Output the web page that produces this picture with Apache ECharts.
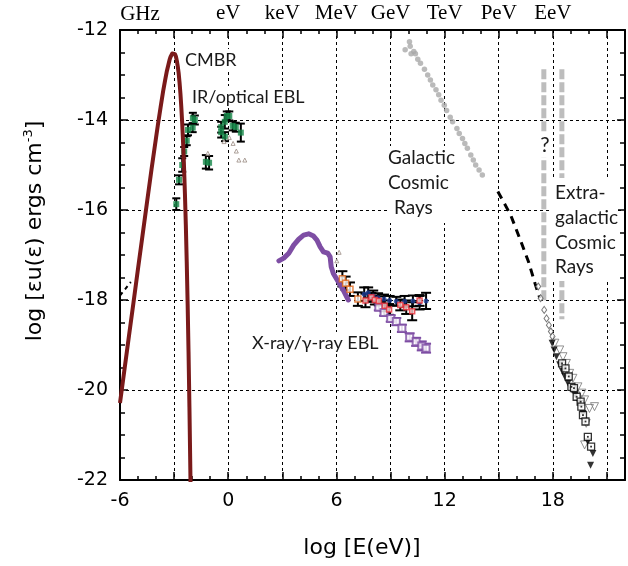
<!DOCTYPE html>
<html><head><meta charset="utf-8">
<script src="https://cdn.jsdelivr.net/npm/echarts@6/dist/echarts.min.js"></script>
<style>html,body{margin:0;padding:0;background:#fff}#c{width:628px;height:566px}</style>
</head><body><div id="c"></div>
<script>
// ---------- tick labels ----------
const X_LABELS = [-6, 0, 6, 12, 18];
const TOP_TICKS = [0, 3, 6, 9, 12, 15, 18];
const TOP_NAMES = ['eV', 'keV', 'MeV', 'GeV', 'TeV', 'PeV', 'EeV'];

// ---------- CMBR ----------
const CMBR_X = [-6,-5.75,-5.5,-5.25,-5,-4.75,-4.5,-4.25,-4,-3.9,-3.75,-3.6,-3.5,-3.4,-3.25,-3.2,-3.1,-3.04,-3.0,-2.95,-2.9,-2.85,-2.8,-2.75,-2.7,-2.65,-2.6,-2.55,-2.5,-2.45,-2.4,-2.35,-2.3,-2.25,-2.2,-2.15,-2.1,-2.05];
const CMBR_Y = [-20.29,-19.54,-18.79,-18.05,-17.30,-16.56,-15.82,-15.09,-14.39,-14.11,-13.72,-13.34,-13.12,-12.91,-12.66,-12.60,-12.52,-12.50,-12.51,-12.535,-12.59,-12.68,-12.80,-12.95,-13.16,-13.41,-13.72,-14.08,-14.52,-15.04,-15.64,-16.33,-17.15,-18.08,-19.15,-20.38,-21.77,-23.37];

// radio background dashes
const RADIO_X = [-6.0, -5.4];
const RADIO_Y = [-17.9, -17.6];

// ---------- IR/optical EBL ----------
const EBL_X = [-2.88,-2.73,-2.55,-2.44,-2.30,-2.23,-1.97,-1.96,-1.85,-1.24,-1.06,-0.39,-0.39,-0.19,-0.18,-0.08,0.06,0.25,0.42,0.70];
const EBL_Y = [-15.87,-15.33,-15.00,-14.70,-14.46,-14.22,-14.17,-13.96,-14.00,-14.93,-14.95,-14.16,-14.27,-14.04,-14.37,-13.91,-13.91,-14.13,-14.16,-14.28];
const EBL_ERR = [0.13,0.10,0.15,0.10,0.10,0.12,0.10,0.12,0.10,0.15,0.15,0.12,0.12,0.15,0.10,0.10,0.10,0.10,0.10,0.20];
const LIM_X = [-0.23,0.06,0.27,0.45,0.59,0.92,-1.13,6.15,6.02];
const LIM_Y = [-14.48,-14.39,-14.52,-14.69,-14.89,-14.89,-14.74,-16.94,-17.13];

// ---------- X-ray / gamma-ray EBL ----------
const XRAY_X = [2.81,3.08,3.36,3.63,3.91,4.18,4.46,4.73,4.92,5.10,5.28,5.52,5.65,5.71,5.83,6.02,6.38,6.66];
const XRAY_Y = [-17.13,-17.07,-16.96,-16.78,-16.65,-16.56,-16.53,-16.58,-16.67,-16.82,-16.93,-16.96,-17.04,-17.26,-17.41,-17.54,-17.78,-18.00];
const COMP_X = [6.33,6.51,6.75,7.19];
const COMP_Y = [-17.53,-17.63,-17.76,-17.98];
const COMP_ERR = [0.17,0.15,0.15,0.15];
const EGRET_X = [7.54,7.76,8.04,8.31,8.64,8.95,9.32,9.78,10.24,10.61,10.97];
const EGRET_Y = [-17.87,-17.84,-17.91,-17.95,-17.98,-18.01,-18.03,-18.03,-18.02,-18.06,-18.02];
const EGRET_ERR = [0.15,0.12,0.12,0.10,0.10,0.10,0.10,0.12,0.12,0.15,0.18];
const EGRET2_X = [7.61,7.94,8.13,8.35,8.68,8.92,9.54,9.87,10.20,10.61];
const EGRET2_Y = [-18.01,-17.94,-18.00,-18.02,-18.13,-18.21,-18.11,-18.16,-18.25,-18.01];
const EGRET2_ERR = [0.15,0.10,0.10,0.10,0.12,0.12,0.12,0.15,0.20,0.12];
const FERMI_X = [8.35,8.64,9.01,9.32,9.63,10.06,10.42,10.73,10.97];
const FERMI_Y = [-18.16,-18.28,-18.41,-18.48,-18.63,-18.83,-18.93,-19.02,-19.07];
const FERMI_ERR = [0.07,0.07,0.07,0.08,0.08,0.09,0.09,0.10,0.10];

// ---------- cosmic rays ----------
const GCR_X = [9.81,10.14,10.05,10.09,10.29,10.38,10.51,10.66,10.88,11.06,11.21,11.34,11.52,11.67,11.80,11.98,12.11,12.31,12.44,12.68,12.81,12.99,13.12,13.26,13.45,13.59,13.72,13.91,14.09];
const GCR_Y = [-12.44,-12.53,-12.26,-12.36,-12.48,-12.53,-12.65,-12.74,-12.87,-13.00,-13.11,-13.22,-13.33,-13.44,-13.56,-13.67,-13.79,-13.94,-14.04,-14.19,-14.30,-14.41,-14.52,-14.63,-14.78,-14.89,-15.00,-15.11,-15.22];
const KNEE_X = [14.95,15.66,16.20,16.65,17.01,17.28];
const KNEE_Y = [-15.59,-16.11,-16.67,-17.15,-17.63,-17.96];
const BAR_X = [17.5, 18.5];
const BAR_TOP = [-12.87, -12.87];
const BAR_BOTTOM = [-18.05, -18.43];
const DIAM_X = [17.19,17.32,17.52,17.65,17.78,17.89,17.98];
const DIAM_Y = [-17.70,-17.96,-18.22,-18.41,-18.56,-18.70,-18.81];
const TRI_X = [17.96,18.07,18.20,18.38,18.53,18.66,18.84,19.06,19.24,19.48,19.67,19.94,20.22,20.09];
const TRI_Y = [-18.96,-19.11,-19.26,-19.44,-19.59,-19.70,-19.85,-20.00,-20.11,-20.30,-20.52,-21.15,-21.41,-21.67];
const OTRI_X = [18.11,18.38,18.56,18.75,18.93,19.11,19.39,19.61,19.76,20.03,20.31,19.85,19.76];
const OTRI_Y = [-18.96,-19.11,-19.26,-19.41,-19.63,-19.74,-19.93,-20.07,-20.22,-20.41,-20.37,-20.74,-21.22];
const SQ_X = [18.51,18.70,18.88,19.03,19.17,19.32,19.54,19.58,19.67,19.81,19.94,20.12];
const SQ_Y = [-19.41,-19.52,-19.70,-19.93,-19.96,-20.15,-20.26,-20.37,-20.56,-20.70,-21.04,-21.26];

// ---------- helpers ----------
const pts = (xs, ys) => xs.map((x, i) => [x, ys[i]]);
function errSeries(xs, ys, es, color, width, cap) {
  return {
    type: 'custom', silent: true, z: 3, clip: true,
    data: xs.map((x, i) => [x, ys[i], es[i]]),
    encode: { x: 0, y: 1 },
    renderItem(params, api) {
      const x = api.value(0), y = api.value(1), e = api.value(2);
      const t = api.coord([x, y + e]), b = api.coord([x, y - e]);
      const st = { stroke: color, lineWidth: width };
      return { type: 'group', children: [
        { type: 'line', shape: { x1: t[0], y1: t[1], x2: b[0], y2: b[1] }, style: st },
        { type: 'line', shape: { x1: t[0] - cap, y1: t[1], x2: t[0] + cap, y2: t[1] }, style: st },
        { type: 'line', shape: { x1: b[0] - cap, y1: b[1], x2: b[0] + cap, y2: b[1] }, style: st }
      ]};
    }
  };
}
function scat(xs, ys, opt) {
  return Object.assign({ type: 'scatter', silent: true, data: pts(xs, ys), z: 4 }, opt);
}

const SANS = 'DejaVu Sans';
const ANNO = 'Lato';
const axisCommon = {
  type: 'value', min: -6, max: 22, interval: 3,
  axisLine: { show: true, onZero: false, lineStyle: { color: '#000', width: 2 } },
  axisTick: { show: true, inside: true, length: 8, lineStyle: { color: '#000', width: 1.5 } },
  minorTick: { show: true, splitNumber: 3, length: 4, lineStyle: { color: '#000', width: 1.5 } }
};
const yCommon = {
  type: 'value', min: -22, max: -12, interval: 2,
  axisLine: { show: true, onZero: false, lineStyle: { color: '#000', width: 2 } },
  axisTick: { show: true, inside: true, length: 8, lineStyle: { color: '#000', width: 1.5 } },
  minorTick: { show: true, splitNumber: 4, length: 5, lineStyle: { color: '#000', width: 1.5 } }
};

const chart = echarts.init(document.getElementById('c'), null, { renderer: 'canvas' });
const option = {
  animation: false,
  backgroundColor: '#fff',
  grid: { left: 120, top: 30, width: 508.7, height: 450, containLabel: false },
  xAxis: [
    Object.assign({}, axisCommon, {
      position: 'bottom',
      splitLine: { show: true, lineStyle: { color: '#000', width: 1, type: [3, 3] } },
      axisLabel: { fontFamily: SANS, fontSize: 19, color: '#000', margin: 12,
        formatter: v => X_LABELS.includes(v) ? String(v) : '' }
    }),
    Object.assign({}, axisCommon, {
      position: 'top',
      splitLine: { show: false },
      axisLabel: { fontFamily: 'Liberation Serif', fontSize: 21, color: '#000', margin: 6,
        formatter: v => { const i = TOP_TICKS.indexOf(v); return i >= 0 ? TOP_NAMES[i] : ''; } }
    })
  ],
  yAxis: [
    Object.assign({}, yCommon, {
      position: 'left',
      splitLine: { show: true, lineStyle: { color: '#000', width: 1, type: [3, 3] } },
      axisLabel: { fontFamily: SANS, fontSize: 19, color: '#000', margin: 12 }
    }),
    Object.assign({}, yCommon, { position: 'right', splitLine: { show: false }, axisLabel: { show: false } })
  ],
  series: [
    { type: 'line', data: pts(CMBR_X, CMBR_Y), showSymbol: false, symbol: 'none', silent: true, z: 5,
      lineStyle: { color: '#7a1a1a', width: 4, join: 'round' } },
    { type: 'line', data: pts(RADIO_X, RADIO_Y), symbol: 'none', silent: true,
      lineStyle: { color: '#000', width: 2, type: [4, 4] } },
    // grey dashed bars
    { type: 'line', data: [[BAR_X[0], BAR_TOP[0]], [BAR_X[0], BAR_BOTTOM[0]]], symbol: 'none', silent: true, z: 2,
      lineStyle: { color: '#bdbdbd', width: 5, type: [10, 3] } },
    { type: 'line', data: [[BAR_X[1], BAR_TOP[1]], [BAR_X[1], BAR_BOTTOM[1]]], symbol: 'none', silent: true, z: 2,
      lineStyle: { color: '#bdbdbd', width: 5, type: [10, 3] } },
    // EBL
    errSeries(EBL_X, EBL_Y, EBL_ERR, '#000', 2, 4),
    scat(EBL_X, EBL_Y, { symbol: 'rect', symbolSize: 6, itemStyle: { color: '#17884a' } }),
    scat(LIM_X, LIM_Y, { symbol: 'triangle', symbolSize: 4, itemStyle: { color: '#fff', borderColor: '#9a8b82', borderWidth: 1 } }),
    // X-ray line
    { type: 'line', data: pts(XRAY_X, XRAY_Y), symbol: 'none', silent: true, z: 3,
      lineStyle: { color: '#7e4ea4', width: 5, join: 'round', cap: 'round' } },
    errSeries(COMP_X, COMP_Y, COMP_ERR, '#000', 2, 5),
    scat(COMP_X, COMP_Y, { symbol: 'rect', symbolSize: 6, itemStyle: { color: '#fff', borderColor: '#e0661a', borderWidth: 1.5 } }),
    errSeries(FERMI_X, FERMI_Y, FERMI_ERR, '#7e4ea4', 2, 5),
    scat(FERMI_X, FERMI_Y, { symbol: 'rect', symbolSize: 7, itemStyle: { color: '#fff', borderColor: '#7e4ea4', borderWidth: 2 } }),
    errSeries(EGRET_X, EGRET_Y, EGRET_ERR, '#000', 2, 5),
    errSeries(EGRET2_X, EGRET2_Y, EGRET2_ERR, '#000', 2, 5),
    scat(EGRET_X, EGRET_Y, { symbol: 'circle', symbolSize: 5, itemStyle: { color: '#1d3c95' } }),
    scat(EGRET2_X, EGRET2_Y, { symbol: 'rect', symbolSize: 5, itemStyle: { color: '#ffd0d0', borderColor: '#e8303a', borderWidth: 1.5 } }),
    // cosmic rays
    scat(GCR_X, GCR_Y, { symbol: 'circle', symbolSize: 5.5, itemStyle: { color: '#a9a9a9' } }),
    { type: 'line', data: pts(KNEE_X, KNEE_Y), symbol: 'none', silent: true, z: 3,
      lineStyle: { color: '#000', width: 3, type: [8, 6] } },
    scat(DIAM_X, DIAM_Y, { symbol: 'diamond', symbolSize: [5, 7], itemStyle: { color: '#fff', borderColor: '#555', borderWidth: 1 } }),
    scat(OTRI_X, OTRI_Y, { symbol: 'triangle', symbolRotate: 180, symbolSize: 8, itemStyle: { color: 'rgba(255,255,255,0)', borderColor: '#777', borderWidth: 1 } }),
    scat(TRI_X, TRI_Y, { symbol: 'triangle', symbolRotate: 180, symbolSize: 7, itemStyle: { color: '#000' } }),
    scat(SQ_X, SQ_Y, { symbol: 'rect', symbolSize: 7, z: 5, itemStyle: { color: '#fff', borderColor: '#000', borderWidth: 1.3 } }),
    scat(SQ_X, SQ_Y, { symbol: 'rect', symbolSize: 1.8, z: 6, itemStyle: { color: '#000' } })
  ]
};
chart.setOption(option);

// ---------- text annotations ----------
const txt = (t, x, y, o) => Object.assign({ type: 'text', x, y, z: 100, silent: true,
  style: Object.assign({ text: t, font: '18px ' + ANNO, fill: '#1a1a1a', verticalAlign: 'middle', align: 'left' }, o || {}) });
const boxed = (o) => Object.assign({ backgroundColor: '#fff', padding: [2, 2] }, o || {});
const rect = (x, y, w, h) => ({ type: 'rect', z: 99, silent: true, shape: { x, y, width: w, height: h }, style: { fill: '#fff' } });
chart.setOption({
  graphic: [
    txt('GHz', 140, 14, { font: '21px Liberation Serif', fill: '#000', align: 'center' }),
    txt('CMBR', 183, 60, boxed()),
    txt('IR/optical EBL', 190, 97, boxed()),
    txt('X-ray/γ-ray EBL', 250, 343, boxed()),
    rect(387, 146, 73, 77),
    txt('Galactic', 388, 158, { font: '19px ' + ANNO }),
    txt('Cosmic', 388, 183, { font: '19px ' + ANNO }),
    txt('Rays', 394, 208, { font: '19px ' + ANNO }),
    txt('?', 545, 145, boxed({ font: '21px ' + ANNO, align: 'center' })),
    rect(552, 178, 66, 103),
    txt('Extra-', 555, 193, { font: '19px ' + ANNO }),
    txt('galactic', 555, 218, { font: '19px ' + ANNO }),
    txt('Cosmic', 555, 243, { font: '19px ' + ANNO }),
    txt('Rays', 555, 267, { font: '19px ' + ANNO }),
    txt('log [E(eV)]', 362, 548, { font: '22px ' + SANS, fill: '#000', align: 'center' }),
    { type: 'text', x: 35, y: 231, rotation: Math.PI / 2, z: 100, silent: true,
      style: { text: 'log [εu(ε) ergs cm{s|-3}]', font: '22px ' + SANS, fill: '#000',
        align: 'center', verticalAlign: 'middle',
        rich: { s: { fontSize: 13, fontFamily: SANS, verticalAlign: 'top', lineHeight: 26 } } } }
  ]
});
</script></body></html>
